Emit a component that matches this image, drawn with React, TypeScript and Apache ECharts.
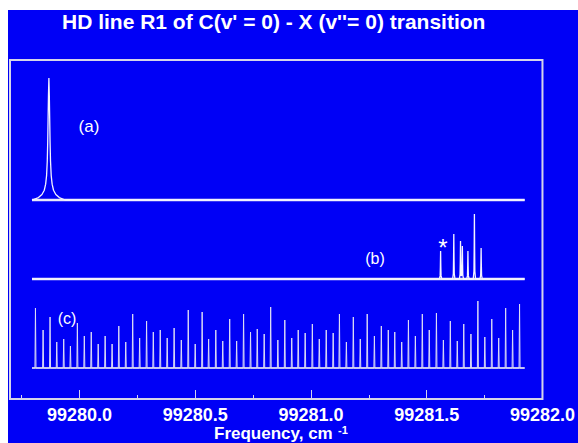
import React, { useEffect, useRef } from "react";
import * as echarts from "echarts";

const TITLE = "HD line R1 of C(v' = 0) - X (v''= 0) transition";
const X_NAME = "Frequency, cm";
const X_NAME_SUP = "-1";
const X_MIN = 99279.7;
const X_MAX = 99282.0;
const X_LABELS = [99280.0, 99280.5, 99281.0, 99281.5, 99282.0];
const X_MINOR_TICKS = [99279.75, 99280.25, 99280.75, 99281.25, 99281.75];

const SCAN_START = 99279.795;
const SCAN_END = 99281.923;

// (a) single line
const A_BASE = 199;
const A_PEAK_POS = [99279.868];
const A_PEAK_HEIGHT = [122];
const A_PROFILE_OFFSET = [-0.07, -0.045, -0.03, -0.02, -0.014, -0.01, -0.007, -0.005, -0.0035, -0.0018, 0, 0.0018, 0.0035, 0.005, 0.007, 0.01, 0.014, 0.02, 0.03, 0.045, 0.07];
const A_PROFILE_REL = [0, 0.02, 0.045, 0.08, 0.13, 0.2, 0.32, 0.48, 0.66, 0.86, 1, 0.86, 0.66, 0.48, 0.32, 0.2, 0.13, 0.08, 0.045, 0.02, 0];

// (b) spectrum
const B_BASE = 120;
const B_PEAK_POS = [99281.56, 99281.617, 99281.646, 99281.654, 99281.678, 99281.706, 99281.735];
const B_PEAK_HEIGHT = [28, 45, 38, 33, 28, 65, 31];
const B_PROFILE_OFFSET = [-0.005, -0.002, -0.001, 0, 0.001, 0.002, 0.005];
const B_PROFILE_REL = [0, 0.12, 0.45, 1, 0.45, 0.12, 0];

// (c) frequency markers
const C_BASE = 31;
const C_PEAK_POS = [
  99279.81, 99279.843, 99279.873, 99279.902, 99279.932, 99279.961, 99279.991,
  99280.021, 99280.051, 99280.081, 99280.111, 99280.141, 99280.17, 99280.2, 99280.23, 99280.26, 99280.29,
  99280.319, 99280.349, 99280.379, 99280.409, 99280.44, 99280.47, 99280.5, 99280.53, 99280.558, 99280.589,
  99280.619, 99280.649, 99280.679, 99280.709, 99280.739, 99280.768, 99280.798, 99280.826, 99280.857, 99280.887,
  99280.917, 99280.945, 99280.975,
  99281.006, 99281.036, 99281.066, 99281.096, 99281.123, 99281.153, 99281.183, 99281.213, 99281.243, 99281.274,
  99281.304, 99281.334, 99281.362, 99281.392, 99281.421, 99281.451, 99281.481, 99281.511, 99281.542, 99281.572,
  99281.602, 99281.632, 99281.66, 99281.691, 99281.721, 99281.751, 99281.781, 99281.811, 99281.841, 99281.871,
  99281.901,
];
const C_PEAK_HEIGHT = [
  60, 38, 51, 26, 29, 22, 45, 32, 36, 24,
  32, 24, 42, 26, 54, 30, 47, 36, 38, 30,
  40, 28, 58, 24, 56, 29, 38, 27, 49, 27,
  54, 36, 39, 34, 61, 28, 48, 30, 38, 35,
  44, 29, 38, 35, 54, 26, 51, 29, 54, 32,
  42, 38, 36, 26, 48, 32, 54, 38, 55, 28,
  47, 27, 44, 34, 67, 31, 49, 30, 60, 38,
  64,
];
const C_PROFILE_OFFSET = [-0.0022, 0, 0.0022];
const C_PROFILE_REL = [0, 1, 0];

function interp(offs: number[], rel: number[], d: number): number {
  if (d <= offs[0] || d >= offs[offs.length - 1]) return 0;
  for (let k = 0; k < offs.length - 1; k++) {
    if (d >= offs[k] && d <= offs[k + 1]) {
      const t = (d - offs[k]) / (offs[k + 1] - offs[k]);
      return rel[k] + t * (rel[k + 1] - rel[k]);
    }
  }
  return 0;
}

function buildTrace(base: number, pos: number[], hts: number[], offs: number[], rel: number[]) {
  const xs = new Set<number>([SCAN_START, SCAN_END]);
  pos.forEach((p) => offs.forEach((o) => xs.add(+(p + o).toFixed(5))));
  const sorted = Array.from(xs)
    .filter((x) => x >= SCAN_START && x <= SCAN_END)
    .sort((a, b) => a - b);
  return sorted.map((x) => {
    let y = base;
    pos.forEach((p, i) => {
      y += hts[i] * interp(offs, rel, x - p);
    });
    return [x, y];
  });
}

const FONT = "'Liberation Sans', Arial, sans-serif";

export default function App() {
  const ref = useRef<HTMLDivElement>(null);
  useEffect(() => {
    if (!ref.current) return;
    const chart = echarts.init(ref.current, undefined, { renderer: "svg" });
    const traceA = buildTrace(A_BASE, A_PEAK_POS, A_PEAK_HEIGHT, A_PROFILE_OFFSET, A_PROFILE_REL);
    const traceB = buildTrace(B_BASE, B_PEAK_POS, B_PEAK_HEIGHT, B_PROFILE_OFFSET, B_PROFILE_REL);
    const traceC = buildTrace(C_BASE, C_PEAK_POS, C_PEAK_HEIGHT, C_PROFILE_OFFSET, C_PROFILE_REL);
    const band = (base: number) => [
      [SCAN_START, base],
      [SCAN_END, base],
    ];
    const lineSeries = (data: number[][], width: number, color: string) => ({
      type: "line",
      data,
      showSymbol: false,
      symbol: "none",
      silent: true,
      lineStyle: { color, width },
      z: 3,
    });
    chart.setOption({
      animation: false,
      backgroundColor: "#0000f6",
      title: {
        text: TITLE,
        left: 54,
        top: 1,
        padding: 0,
        textStyle: { color: "#ffffff", fontSize: 21, fontWeight: "bold", fontFamily: FONT },
      },
      grid: {
        left: 2,
        top: 50,
        width: 535,
        height: 339,
        show: true,
        borderColor: "#d4d4ea",
        borderWidth: 2,
        backgroundColor: "transparent",
      },
      xAxis: [
        {
          type: "value",
          min: X_MIN,
          max: X_MAX,
          position: "bottom",
          axisLine: { show: false },
          splitLine: { show: false },
          axisTick: {
            show: true,
            inside: true,
            length: 9,
            customValues: X_LABELS,
            lineStyle: { color: "#d4d4ea", width: 1 },
          },
          axisLabel: {
            color: "#ffffff",
            fontSize: 18,
            fontWeight: "bold",
            fontFamily: FONT,
            margin: 7,
            lineHeight: 18,
            customValues: X_LABELS,
            formatter: (v: number) => v.toFixed(1),
          },
        },
        {
          type: "value",
          min: X_MIN,
          max: X_MAX,
          position: "bottom",
          axisLine: { show: false },
          splitLine: { show: false },
          axisTick: {
            show: true,
            inside: true,
            length: 4,
            customValues: X_MINOR_TICKS,
            lineStyle: { color: "#d4d4ea", width: 1 },
          },
          axisLabel: { show: false },
        },
      ],
      yAxis: { type: "value", min: 0, max: 339, show: false },
      graphic: [
        { type: "text", x: 206, y: 415, style: { text: X_NAME, fill: "#fff", font: `bold 17px ${FONT}`, lineHeight: 17, textVerticalAlign: "top" } },
        { type: "text", x: 330, y: 414, style: { text: X_NAME_SUP, fill: "#fff", font: `bold 11px ${FONT}`, lineHeight: 11, textVerticalAlign: "top" } },
        { type: "text", x: 81, y: 116, style: { text: "(a)", fill: "#fff", font: `17px ${FONT}`, textAlign: "center", textVerticalAlign: "middle" } },
        { type: "text", x: 367, y: 248, style: { text: "(b)", fill: "#fff", font: `16px ${FONT}`, textAlign: "center", textVerticalAlign: "middle" } },
        { type: "text", x: 59, y: 308, style: { text: "(c)", fill: "#fff", font: `16px ${FONT}`, textAlign: "center", textVerticalAlign: "middle" } },
        { type: "text", x: 435, y: 237, style: { text: "*", fill: "#fff", font: `24px ${FONT}`, textAlign: "center", textVerticalAlign: "middle" } },
      ],
      series: [
        lineSeries(band(A_BASE), 2.6, "#e8e8f8"),
        lineSeries(traceA, 1.3, "#f4f4ff"),
        lineSeries(band(B_BASE), 2.6, "#e8e8f8"),
        lineSeries(traceB, 1.3, "#f4f4ff"),
        lineSeries(band(C_BASE), 1.6, "#e0e0f4"),
        lineSeries(traceC, 1, "#dcdcf4"),
      ],
    });
    return () => chart.dispose();
  }, []);
  return (
    <div
      ref={ref}
      style={{ position: "fixed", left: 8, top: 10, width: 570, height: 433 }}
    />
  );
}
